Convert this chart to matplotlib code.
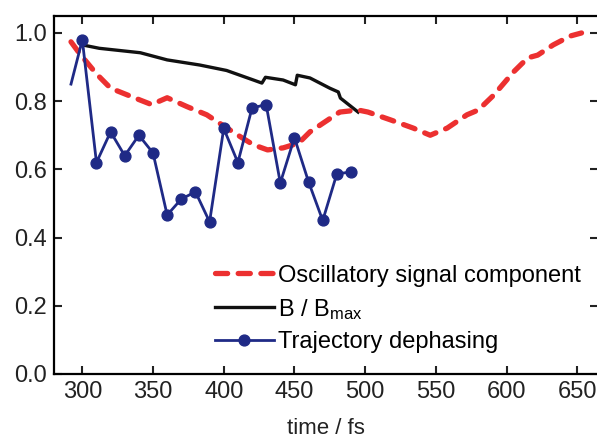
import numpy as np
import matplotlib
matplotlib.use("Agg")
from matplotlib import pyplot as plt

plt.rcParams['font.family'] = ['Liberation Sans', 'DejaVu Sans']
plt.rcParams['mathtext.fontset'] = 'custom'
plt.rcParams['mathtext.rm'] = 'Liberation Sans'
plt.rcParams['mathtext.it'] = 'Liberation Sans'

# oscillatory signal component (red dashed)
osc_t = [292, 298, 310, 320, 341, 349, 360, 374, 388, 399, 412, 421, 431, 442,
         453, 461, 482, 495, 502, 518, 534, 546, 558, 572, 580, 591, 605, 615,
         622, 633, 645, 653]
osc_v = [0.974, 0.94, 0.88, 0.838, 0.803, 0.79, 0.81, 0.784, 0.76, 0.73, 0.695,
         0.672, 0.657, 0.663, 0.677, 0.71, 0.768, 0.774, 0.768, 0.745, 0.721,
         0.70, 0.721, 0.76, 0.774, 0.818, 0.886, 0.927, 0.935, 0.965, 0.991, 1.0]

# B / Bmax (black)
b_t = [300, 312, 341, 360, 383, 402, 421, 427, 429.5, 442, 450.7, 452, 461,
       475, 481, 482.5, 495]
b_v = [0.965, 0.955, 0.942, 0.921, 0.906, 0.89, 0.862, 0.853, 0.87, 0.862,
       0.848, 0.876, 0.868, 0.838, 0.827, 0.809, 0.768]

# trajectory dephasing (blue markers)
traj_t = [292, 300, 310, 320, 330, 340, 350, 360, 370, 380, 390, 400, 410, 420,
          430, 440, 450, 460, 470, 480, 490]
traj_v = [0.85, 0.98, 0.62, 0.71, 0.64, 0.70, 0.648, 0.466, 0.513, 0.534, 0.446,
          0.72, 0.62, 0.78, 0.79, 0.56, 0.693, 0.563, 0.45, 0.587, 0.592]

xticks = [300, 350, 400, 450, 500, 550, 600, 650]
yticks = [0.0, 0.2, 0.4, 0.6, 0.8, 1.0]

fig = plt.figure(figsize=(5.97, 4.42), dpi=100)
ax = fig.add_axes([0.0905, 0.154, 0.912, 0.81])

ax.plot(osc_t, osc_v, color='#ec3030', lw=3.8, ls=(0, (2.3, 2.0)),
        dash_capstyle='round', label='Oscillatory signal component', zorder=3)
ax.plot(b_t, b_v, color='#111111', lw=2.4, label='B / B$_{\\mathrm{max}}$', zorder=2)
ax.plot(traj_t, traj_v, color='#1f2a86', lw=2, marker='o', ms=7.8,
        markevery=list(range(1, len(traj_t))), label='Trajectory dephasing', zorder=4)

ax.set_xlim(280, 665)
ax.set_ylim(0, 1.05)
ax.set_xticks(xticks)
ax.set_yticks(yticks)
ax.set_yticklabels(['%.1f' % y for y in yticks])
ax.tick_params(direction='in', length=6, width=1.5, labelsize=17,
               top=True, right=True, pad=5, colors='#222222')
for s in ax.spines.values():
    s.set_linewidth(1.6)

ax.set_xlabel('time / fs', fontsize=16, labelpad=11, color='#222222')

ax.legend(loc='upper left', bbox_to_anchor=(0.295, 0.305), frameon=False,
          fontsize=17, handlelength=2.5, handletextpad=0.2, labelspacing=0.42,
          borderaxespad=0, borderpad=0)

fig.savefig('out.png', dpi=100)
